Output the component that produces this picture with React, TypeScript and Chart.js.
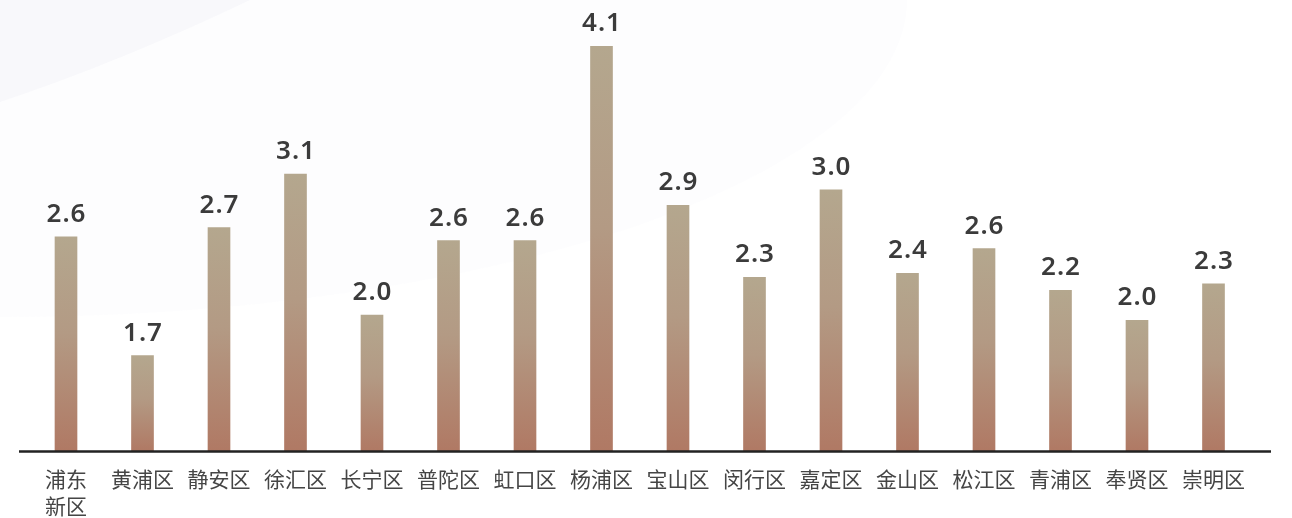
import React, { useEffect, useRef } from "react";
import { Chart, registerables } from "chart.js";

Chart.register(...registerables);

const districts: (string | string[])[] = [
  ["浦东", "新区"], "黄浦区", "静安区", "徐汇区", "长宁区", "普陀区", "虹口区", "杨浦区",
  "宝山区", "闵行区", "嘉定区", "金山区", "松江区", "青浦区", "奉贤区", "崇明区",
];
const values: number[] = [2.64, 1.73, 2.71, 3.12, 2.04, 2.61, 2.61, 4.1, 2.88, 2.33, 3.0, 2.36, 2.55, 2.23, 2.0, 2.28];
const valueLabels: string[] = ["2.6", "1.7", "2.7", "3.1", "2.0", "2.6", "2.6", "4.1", "2.9", "2.3", "3.0", "2.4", "2.6", "2.2", "2.0", "2.3"];
const yMin = 1;
const yMax = 4.1;

const CJK = '"Noto Sans CJK SC", "Noto Sans", sans-serif';
const NUM = '"Noto Sans", "Noto Sans CJK SC", sans-serif';

const backgroundPlugin = {
  id: "bgShapes",
  beforeDraw(chart: any) {
    const c = chart.ctx;
    const { width, height } = chart;
    c.save();
    c.fillStyle = "#ffffff";
    c.fillRect(0, 0, width, height);
    // large faint shape
    c.fillStyle = "rgba(236,238,245,0.12)";
    c.beginPath();
    c.ellipse(0, 0, 907, 317, 0, 0, Math.PI / 2);
    c.lineTo(0, 0);
    c.closePath();
    c.fill();
    // smaller, slightly darker shape
    c.fillStyle = "rgba(236,238,245,0.28)";
    c.beginPath();
    c.moveTo(0, 0);
    c.lineTo(250, 0);
    c.quadraticCurveTo(120, 62, 0, 102);
    c.closePath();
    c.fill();
    c.restore();
  },
};

const overlayPlugin = {
  id: "overlay",
  afterDatasetsDraw(chart: any) {
    const c = chart.ctx;
    const area = chart.chartArea;
    c.save();
    // baseline
    c.strokeStyle = "#222222";
    c.lineWidth = 2.5;
    c.beginPath();
    c.moveTo(area.left - 8.75, area.bottom + 0.5);
    c.lineTo(area.right + 19.25, area.bottom + 0.5);
    c.stroke();
    // value labels
    const meta = chart.getDatasetMeta(0);
    c.fillStyle = "#3b3b3b";
    c.font = `600 26px ${NUM}`;
    c.textAlign = "center";
    c.textBaseline = "alphabetic";
    try { (c as any).letterSpacing = "1px"; } catch (e) {}
    meta.data.forEach((bar: any, i: number) => {
      c.fillText(valueLabels[i], bar.x + 0.5, bar.y - 15);
    });
    c.restore();
  },
};

export default function App() {
  const ref = useRef<HTMLCanvasElement | null>(null);
  useEffect(() => {
    if (!ref.current) return;
    const chart = new Chart(ref.current, {
      type: "bar",
      data: {
        labels: districts,
        datasets: [
          {
            data: values,
            barThickness: 22,
            borderWidth: 0,
            backgroundColor: (ctx: any) => {
              const ch = ctx.chart;
              if (!ch.chartArea || ctx.type !== "data") return "#b3a08a";
              const ys = ch.scales.y;
              const top = ys.getPixelForValue(ctx.raw);
              const bottom = ys.getPixelForValue(ys.min);
              const g = ch.ctx.createLinearGradient(0, top, 0, bottom);
              g.addColorStop(0, "#b4a78e");
              g.addColorStop(0.45, "#b39a84");
              g.addColorStop(1, "#b07964");
              return g;
            },
          },
        ],
      },
      options: {
        responsive: false,
        animation: false,
        layout: { padding: { left: 27.75, right: 40.25, top: 46, bottom: 0 } },
        plugins: { legend: { display: false }, tooltip: { enabled: false } },
        scales: {
          x: {
            grid: { display: false, drawTicks: false },
            border: { display: false },
            ticks: {
              padding: 14,
              color: "#454545",
              font: { family: CJK, size: 21, lineHeight: 1.3 },
              maxRotation: 0,
              autoSkip: false,
            },
            afterFit: (scale: any) => {
              scale.height = 67;
            },
          },
          y: {
            display: false,
            min: yMin,
            max: yMax,
          },
        },
      },
      plugins: [backgroundPlugin, overlayPlugin],
    });
    return () => chart.destroy();
  }, []);
  return (
    <canvas
      ref={ref}
      width={1292}
      height={518}
      style={{ position: "fixed", left: 0, top: 0, width: 1292, height: 518 }}
    />
  );
}
